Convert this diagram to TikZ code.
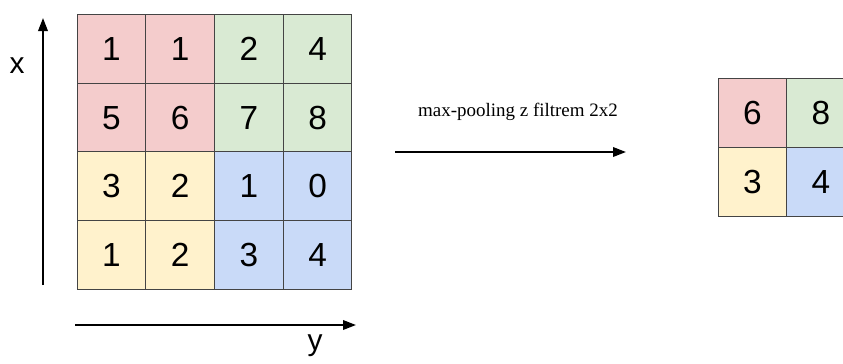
\documentclass[tikz,border=0pt]{standalone}
\usepackage{fontspec}
\setmainfont{Liberation Serif}
\newfontfamily\digits{Liberation Sans}
\usetikzlibrary{arrows.meta}

\definecolor{poolred}{HTML}{F4CCCC}
\definecolor{poolgreen}{HTML}{D9EAD3}
\definecolor{poolyellow}{HTML}{FFF2CC}
\definecolor{poolblue}{HTML}{C9DAF8}
\definecolor{gridline}{HTML}{444444}

\tikzset{
  cell/.style={draw=gridline, line width=0.6pt, minimum size=1.375cm, inner sep=0pt,
    font=\digits\fontsize{19}{19}\selectfont},
  axis/.style={line width=1.1pt, -{Triangle[length=2.6mm,width=1.9mm]}},
  axislabel/.style={font=\digits\fontsize{17}{17}\selectfont}
}

\begin{document}
\begin{tikzpicture}[x=0.02cm,y=-0.02cm]
		\useasboundingbox (0,0) rectangle (843,363);
		\clip (0,0) rectangle (843,363);
		% input 4x4
		\foreach \r/\a/\b/\c/\d in {1/1/1/2/4, 2/5/6/7/8, 3/3/2/1/0, 4/1/2/3/4}{
			\ifnum\r<3 \def\lc{poolred}\def\rc{poolgreen}\else\def\lc{poolyellow}\def\rc{poolblue}\fi
			\node[cell, fill=\lc] (in-\r-1) at (111.4,{15+68.5*(\r-0.5)}) {\a};
			\node[cell, fill=\lc] (in-\r-2) at (180.1,{15+68.5*(\r-0.5)}) {\b};
			\node[cell, fill=\rc] (in-\r-3) at (248.9,{15+68.5*(\r-0.5)}) {\c};
			\node[cell, fill=\rc] (in-\r-4) at (317.6,{15+68.5*(\r-0.5)}) {\d};
		}
		% output 2x2
		\node[cell, fill=poolred] (out-1-1) at (752.5,113.3) {6};
		\node[cell, fill=poolgreen] (out-1-2) at (821,113.3) {8};
		\node[cell, fill=poolyellow] (out-2-1) at (752.5,181.8) {3};
		\node[cell, fill=poolblue] (out-2-2) at (821,181.8) {4};
		% axes
		\coordinate (xfrom) at (43,285);
		\coordinate (xto) at (43,18);
		\coordinate (yfrom) at (75,325);
		\coordinate (yto) at (356,325);
		\draw[axis] (xfrom) -- (xto);
		\draw[axis] (yfrom) -- (yto);
		\node[axislabel] (xlab) at (17,66) {x};
		\node[axislabel] (ylab) at (315,346) {y};
		% pooling step
		\coordinate (poolfrom) at (395,152);
		\coordinate (poolto) at (626,152);
		\draw[axis] (poolfrom) -- (poolto);
		\node[font=\fontsize{10.8}{10.8}\selectfont] (poollab) at (518,112) {max-pooling z filtrem 2x2};
	\end{tikzpicture}
\end{document}
